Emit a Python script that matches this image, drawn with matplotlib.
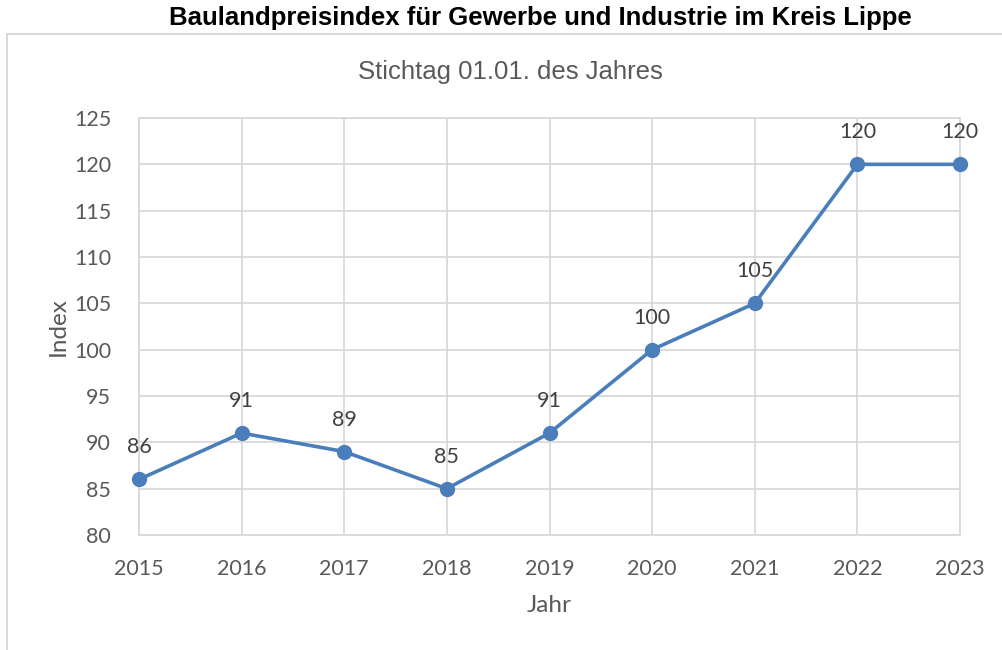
import matplotlib
matplotlib.use("Agg")
import matplotlib.pyplot as plt
from matplotlib.patches import Rectangle

jahre = [2015, 2016, 2017, 2018, 2019, 2020, 2021, 2022, 2023]
index = [86, 91, 89, 85, 91, 100, 105, 120, 120]
y_ticks = [80, 85, 90, 95, 100, 105, 110, 115, 120, 125]

tick_font = ["Lato", "DejaVu Sans"]
arial = ["Liberation Sans", "DejaVu Sans"]
grey = "#595959"
grid_col = "#D9D9D9"
line_col = "#4A7EBB"

fig = plt.figure(figsize=(10.03, 6.5), dpi=100)

# outer chart frame (only left and top edges are visible in the picture)
fig.patches.append(Rectangle((7 / 1003, -0.1), 1.2, 0.1 + (1 - 34 / 650),
                             transform=fig.transFigure, fill=False,
                             edgecolor=grid_col, linewidth=1.5))

ax = fig.add_axes([139 / 1003, 1 - 535 / 650, (960 - 139) / 1003, (535 - 118) / 650])

ax.plot(jahre, index, color=line_col, linewidth=2.6, marker="o",
        markersize=10, zorder=3, clip_on=False)

for x, y in zip(jahre, index):
    ax.annotate(str(y), (x, y), xytext=(0, 23), textcoords="offset points",
                ha="center", va="center", fontsize=15.5, color="#404040",
                family=tick_font)

ax.set_xlim(jahre[0], jahre[-1])
ax.set_ylim(y_ticks[0], y_ticks[-1])
ax.set_xticks(jahre)
ax.set_yticks(y_ticks)
ax.set_xticklabels([str(j) for j in jahre], family=tick_font, fontsize=15.5, color=grey)
ax.set_yticklabels([str(v) for v in y_ticks], family=tick_font, fontsize=15.5, color=grey)
ax.tick_params(axis="y", length=0, pad=20)
ax.tick_params(axis="x", length=0, pad=17)

ax.grid(True, color=grid_col, linewidth=1.3)
ax.set_axisbelow(True)
for s in ax.spines.values():
    s.set_color(grid_col)
    s.set_linewidth(1.3)

ax.set_xlabel("Jahr", family=tick_font, fontsize=17.5, color=grey, labelpad=12)
ax.set_ylabel("Index", family=tick_font, fontsize=17.5, color=grey, labelpad=4)

fig.text(540 / 1003, 1 - 18 / 650, "Baulandpreisindex für Gewerbe und Industrie im Kreis Lippe",
         ha="center", va="center", fontsize=18.5, fontweight="bold", family=arial, color="black")
fig.text(510 / 1003, 1 - 72 / 650, "Stichtag 01.01. des Jahres",
         ha="center", va="center", fontsize=18.5, family=arial, color=grey)

fig.savefig("out.png", dpi=100)
